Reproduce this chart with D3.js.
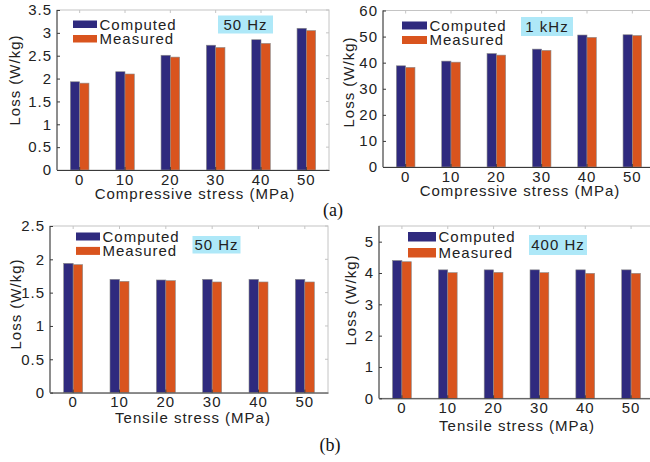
<!DOCTYPE html>
<html>
<head>
<meta charset="utf-8">
<script src="https://cdnjs.cloudflare.com/ajax/libs/d3/7.8.5/d3.min.js"></script>
<style>
  body { margin: 0; background: #fff; }
</style>
</head>
<body>
<div id="container"></div>
<script>
// stress levels (MPa) shared by all four panels
let stressLevels = ["0", "10", "20", "30", "40", "50"];
let seriesNames = ["Computed", "Measured"];

// (a) compressive stress
let comp50Computed = [1.93, 2.15, 2.51, 2.73, 2.85, 3.10];
let comp50Measured = [1.90, 2.10, 2.47, 2.68, 2.77, 3.05];
let comp1kComputed = [38.8, 40.6, 43.5, 45.2, 50.6, 50.7];
let comp1kMeasured = [38.2, 40.2, 42.9, 44.7, 49.7, 50.4];

// (b) tensile stress
let tens50Computed = [1.94, 1.70, 1.69, 1.70, 1.70, 1.70];
let tens50Measured = [1.92, 1.67, 1.68, 1.66, 1.66, 1.66];
let tens400Computed = [4.40, 4.10, 4.10, 4.10, 4.10, 4.10];
let tens400Measured = [4.36, 4.01, 4.02, 4.01, 3.99, 3.99];

let ticks35 = [0, 0.5, 1, 1.5, 2, 2.5, 3, 3.5];
let ticks60 = [0, 10, 20, 30, 40, 50, 60];
let ticks25 = [0, 0.5, 1, 1.5, 2, 2.5];
let ticks5 = [0, 1, 2, 3, 4, 5];

let w = 650;
let h = 462;
let colors = ["#2f2a7e", "#d9541e"];
let sans = "Liberation Sans, Arial, sans-serif";
let textColor = "#222";

let viz = d3.select("#container")
  .append("svg")
    .attr("width", w)
    .attr("height", h)
;
viz.append("rect").attr("width", w).attr("height", h).attr("fill", "#fff");

function label(sel){
  return sel
    .style("font-family", sans)
    .style("font-size", "15px")
    .style("letter-spacing", "1px")
    .style("fill", textColor);
}

function drawPanel(p){
  let g = viz.append("g").attr("class", "panel");

  let xScale = d3.scaleBand().domain(stressLevels)
      .range([p.left, p.right]).paddingInner(0.59).paddingOuter(0.295);
  let xSub = d3.scaleBand().domain(seriesNames).range([0, xScale.bandwidth()]);
  let yScale = d3.scaleLinear().domain([0, p.yMax]).range([p.bottom, p.top]);

  // light box (top / right)
  g.append("rect")
    .attr("x", p.left).attr("y", p.top)
    .attr("width", p.right - p.left).attr("height", p.bottom - p.top)
    .attr("fill", "none").attr("stroke", "#c4c4c4").attr("stroke-width", 1);

  // top and right inward ticks
  g.selectAll(".topTick").data(stressLevels).enter().append("line")
    .attr("x1", d => xScale(d) + xScale.bandwidth()/2)
    .attr("x2", d => xScale(d) + xScale.bandwidth()/2)
    .attr("y1", p.top).attr("y2", p.top + 3)
    .attr("stroke", "#c4c4c4");
  g.selectAll(".rightTick").data(p.ticks).enter().append("line")
    .attr("x1", p.right).attr("x2", p.right - 3)
    .attr("y1", d => yScale(d)).attr("y2", d => yScale(d))
    .attr("stroke", "#c4c4c4");

  let rows = stressLevels.map(function(s, i){
    return {level: s, values: [p.computed[i], p.measured[i]]};
  });

  let groups = g.selectAll(".group").data(rows).enter()
    .append("g")
      .attr("class", "group")
      .attr("transform", d => "translate(" + xScale(d.level) + ",0)")
  ;
  groups.selectAll("rect")
    .data(d => d.values.map((v, j) => ({name: seriesNames[j], value: v, j: j})))
    .enter().append("rect")
      .attr("x", d => xSub(d.name))
      .attr("width", xSub.bandwidth())
      .attr("y", d => yScale(d.value))
      .attr("height", d => p.bottom - yScale(d.value))
      .attr("fill", d => colors[d.j])
      .attr("stroke", "#8a8a8a")
      .attr("stroke-width", 0.6)
  ;

  // axes
  let xAxis = d3.axisBottom(xScale).tickSizeInner(-3).tickSizeOuter(0).tickPadding(4);
  let xAxisGroup = g.append("g")
      .attr("transform", "translate(0," + p.bottom + ")")
      .call(xAxis);
  let yAxis = d3.axisLeft(yScale).tickValues(p.ticks)
      .tickFormat(d3.format("~g")).tickSizeInner(-3).tickSizeOuter(0).tickPadding(5);
  let yAxisGroup = g.append("g")
      .attr("transform", "translate(" + p.left + ",0)")
      .call(yAxis);
  yAxisGroup.select(".domain").attr("d", "M0," + p.bottom + "V" + p.top);

  [xAxisGroup, yAxisGroup].forEach(function(ax){
    ax.select(".domain").attr("stroke", "#3a3a3a");
    ax.selectAll(".tick line").attr("stroke", "#3a3a3a");
    label(ax.selectAll(".tick text"));
  });

  // axis titles
  label(g.append("text"))
    .text(p.xTitle)
    .attr("x", p.xTitleX).attr("y", p.xTitleY)
    .attr("text-anchor", "middle");
  label(g.append("text"))
    .text("Loss (W/kg)")
    .attr("transform", "translate(" + p.yTitleX + "," + p.yTitleY + ") rotate(-90)")
    .attr("dy", "0.35em")
    .attr("text-anchor", "middle");

  // legend
  seriesNames.forEach(function(name, j){
    let ly = p.legY + j * p.legGap;
    g.append("rect")
      .attr("x", p.legX).attr("y", ly)
      .attr("width", p.legW).attr("height", p.legH)
      .attr("fill", colors[j]);
    label(g.append("text"))
      .text(name)
      .attr("x", p.legX + p.legW + 2.5)
      .attr("y", ly + p.legH/2)
      .attr("dy", "0.36em");
  });

  // frequency tag
  g.append("rect")
    .attr("x", p.tag.x).attr("y", p.tag.y)
    .attr("width", p.tag.w).attr("height", p.tag.h)
    .attr("fill", "#aee8f8");
  label(g.append("text"))
    .text(p.tag.label)
    .attr("x", p.tag.x + p.tag.w/2)
    .attr("y", p.tag.y + p.tag.h/2)
    .attr("dy", "0.36em")
    .attr("text-anchor", "middle");
}

drawPanel({
  left: 57, right: 329, top: 10, bottom: 170, yMax: 3.5, ticks: ticks35,
  computed: comp50Computed, measured: comp50Measured,
  xTitle: "Compressive stress (MPa)", xTitleX: 195, xTitleY: 199,
  yTitleX: 15, yTitleY: 80,
  legX: 73, legY: 20.5, legW: 24, legH: 7.5, legGap: 14.5,
  tag: {x: 218, y: 15.5, w: 55, h: 18, label: "50 Hz"}
});
drawPanel({
  left: 383, right: 655, top: 10.5, bottom: 167, yMax: 60, ticks: ticks60,
  computed: comp1kComputed, measured: comp1kMeasured,
  xTitle: "Compressive stress (MPa)", xTitleX: 520, xTitleY: 196,
  yTitleX: 349, yTitleY: 82,
  legX: 402, legY: 21.5, legW: 25, legH: 8, legGap: 14.5,
  tag: {x: 521, y: 17, w: 52, h: 19, label: "1 kHz"}
});
drawPanel({
  left: 50, right: 328, top: 226, bottom: 392.6, yMax: 2.5, ticks: ticks25,
  computed: tens50Computed, measured: tens50Measured,
  xTitle: "Tensile stress (MPa)", xTitleX: 193, xTitleY: 423,
  yTitleX: 15.5, yTitleY: 304,
  legX: 76, legY: 232.5, legW: 24, legH: 8, legGap: 14.4,
  tag: {x: 192.5, y: 236, w: 48, h: 17.5, label: "50 Hz"}
});
drawPanel({
  left: 379, right: 654, top: 226, bottom: 398.3, yMax: 5.5, ticks: ticks5,
  computed: tens400Computed, measured: tens400Measured,
  xTitle: "Tensile stress (MPa)", xTitleX: 517, xTitleY: 431,
  yTitleX: 351, yTitleY: 300,
  legX: 408, legY: 232, legW: 28, legH: 9.5, legGap: 16,
  tag: {x: 529, y: 235, w: 58, h: 20, label: "400 Hz"}
});

// sub-figure captions
let serif = "Liberation Serif, Times New Roman, serif";
viz.append("text").text("(a)")
  .attr("x", 333).attr("y", 216)
  .attr("text-anchor", "middle")
  .style("font-family", serif)
  .style("font-size", "18px")
  .style("fill", "#111");
viz.append("text").text("(b)")
  .attr("x", 330).attr("y", 451)
  .attr("text-anchor", "middle")
  .style("font-family", serif)
  .style("font-size", "18px")
  .style("fill", "#111");
</script>
</body>
</html>
